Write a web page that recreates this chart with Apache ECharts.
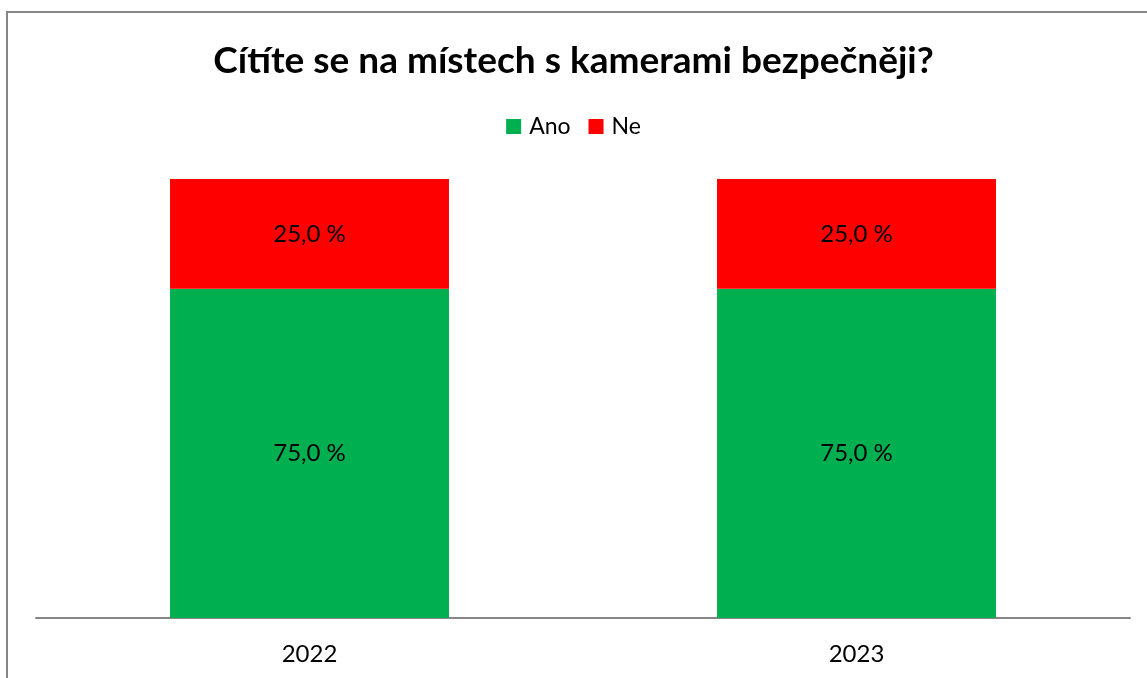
<!DOCTYPE html>
<html>
<head>
<meta charset="utf-8">
<script src="https://cdn.jsdelivr.net/npm/echarts@6/dist/echarts.min.js"></script>
<style>
  html, body { margin: 0; padding: 0; background: #fff; }
  #chart { width: 1147px; height: 678px; }
</style>
</head>
<body>
<div id="chart"></div>
<script>
var years = ['2022', '2023'];
var ano = [75, 75];
var ne = [25, 25];

var myChart = echarts.init(document.getElementById('chart'));
var font = 'Lato, "Open Sans", sans-serif';

var fmt = function (p) {
    return p.value.toFixed(1).replace('.', ',') + ' %';
};

var option = {
    backgroundColor: '#fff',
    graphic: [{
        type: 'rect',
        shape: { x: 7, y: 12, width: 1200, height: 720 },
        style: { fill: 'none', stroke: '#868686', lineWidth: 2 },
        silent: true
    }],
    title: {
        text: 'Cítíte se na místech s kamerami bezpečněji?',
        left: 'center',
        top: 38,
        textStyle: { fontFamily: font, fontSize: 37, fontWeight: 'bold', color: '#000' }
    },
    legend: {
        top: 110,
        left: 'center',
        itemWidth: 15,
        itemHeight: 15,
        itemGap: 18,
        icon: 'rect',
        textStyle: { fontFamily: font, fontSize: 23, color: '#000', padding: [0, 0, 0, 3] },
        data: ['Ano', 'Ne']
    },
    grid: { left: 36, right: 17, top: 179, bottom: 60 },
    xAxis: {
        type: 'category',
        data: years,
        axisLine: { lineStyle: { color: '#868686', width: 2 } },
        axisTick: { show: false },
        axisLabel: { fontFamily: font, fontSize: 24, color: '#000', margin: 24 }
    },
    yAxis: {
        type: 'value',
        min: 0,
        max: 100,
        show: false
    },
    series: [
        {
            name: 'Ano',
            type: 'bar',
            stack: 'a',
            data: ano,
            barWidth: '51%',
            itemStyle: { color: '#00B050' },
            label: { show: true, position: 'inside', formatter: fmt, fontFamily: font, fontSize: 24, color: '#000' }
        },
        {
            name: 'Ne',
            type: 'bar',
            stack: 'a',
            data: ne,
            barWidth: '51%',
            itemStyle: { color: '#FF0000' },
            label: { show: true, position: 'inside', formatter: fmt, fontFamily: font, fontSize: 24, color: '#000' }
        }
    ]
};

myChart.setOption(option);
window.addEventListener('resize', function () {
    myChart.resize();
});
</script>
</body>
</html>
